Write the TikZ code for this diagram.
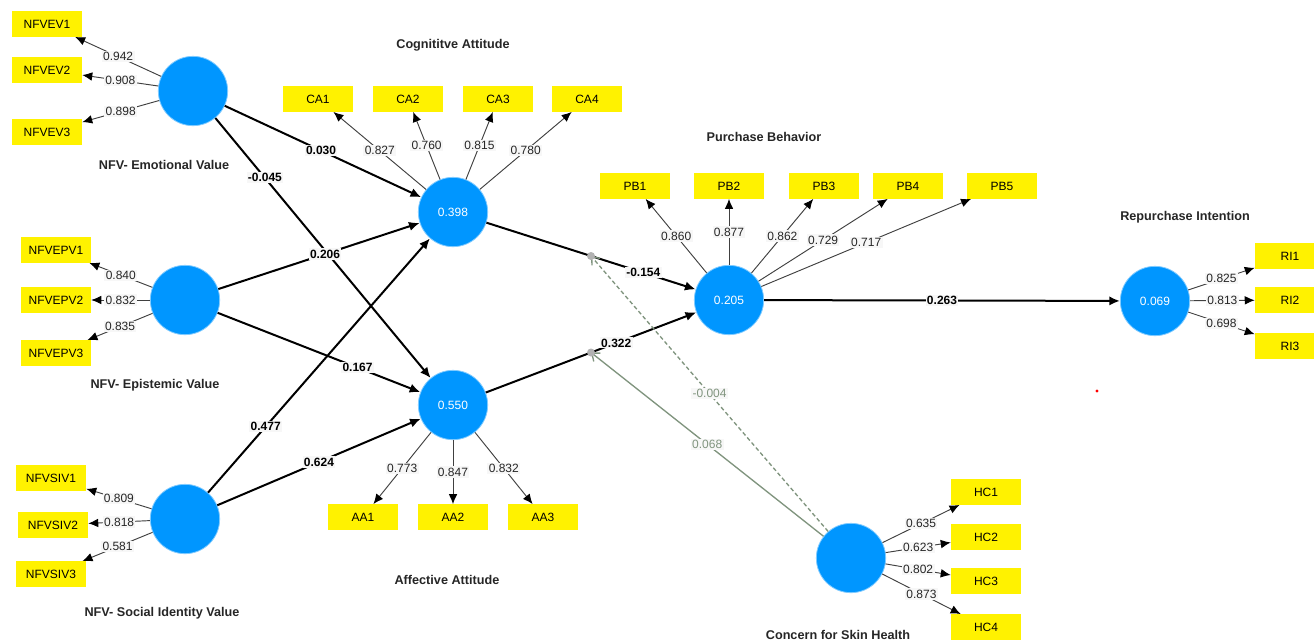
\documentclass[tikz,border=0pt]{standalone}
\usepackage{fontspec}
\setmainfont{Liberation Sans}
\usetikzlibrary{arrows.meta,calc}

\definecolor{lvblue}{RGB}{0,150,255}
\definecolor{modgreen}{RGB}{128,148,126}

\tikzset{
  latent/.style={circle, fill=lvblue, draw=lvblue!50!white, line width=0.6pt,
    minimum size=52pt, inner sep=0pt, text=white, font=\fontsize{9}{10}\selectfont},
  indicator/.style={fill=yellow, minimum width=52.5pt, minimum height=19pt,
    inner sep=0pt, font=\fontsize{9}{10}\selectfont},
  lvtitle/.style={font=\bfseries\fontsize{9.5}{11}\selectfont, text=black!85},
  loading/.style={draw=black!75, line width=0.7pt,
    -{Latex[length=7.5pt,width=6.5pt,color=black]}},
  coef/.style={draw=black, line width=1.5pt, -{Latex[length=8pt,width=7pt]}},
  lval/.style={fill=black!3, inner sep=1pt, font=\fontsize{9}{10}\selectfont, text=black!85},
  cval/.style={fill=black!3, inner sep=1pt, font=\bfseries\fontsize{9}{10}\selectfont},
  modline/.style={draw=modgreen, line width=1pt, -{Straight Barb[length=5pt,width=8pt]}},
  mval/.style={fill=black!3, inner sep=1pt, font=\fontsize{9}{10}\selectfont, text=modgreen},
}

\begin{document}
\begin{tikzpicture}[x=0.75pt, y=-0.75pt]
    % Canvas
    \clip (0,0) rectangle (1314,640);
    \fill[white] (0,0) rectangle (1314,640);

    % Latent variables
    \node[latent] (ev)  at (193,91)  {};
    \node[latent] (epv) at (185,300) {};
    \node[latent] (siv) at (185,519) {};
    \node[latent] (ca)  at (453,212) {0.398};
    \node[latent] (aa)  at (453,405) {0.550};
    \node[latent] (pb)  at (729,300) {0.205};
    \node[latent] (ri)  at (1155,301) {0.069};
    \node[latent] (hc)  at (851,558) {};

    % Titles
    \node[lvtitle] (tev)  at (164,165) {NFV- Emotional Value};
    \node[lvtitle] (tepv) at (155,385) {NFV- Epistemic Value};
    \node[lvtitle] (tsiv) at (162,613) {NFV- Social Identity Value};
    \node[lvtitle] (tca)  at (453,45)  {Cognititve Attitude};
    \node[lvtitle] (taa)  at (447,580) {Affective Attitude};
    \node[lvtitle] (tpb)  at (764,137) {Purchase Behavior};
    \node[lvtitle] (tri)  at (1185,217) {Repurchase Intention};
    \node[lvtitle] (thc)  at (838,635) {Concern for Skin Health};

    % Indicators
    \foreach \n/\y in {1/24,2/70,3/132}
        \node[indicator] (nfvev\n) at (47,\y) {NFVEV\n};
    \foreach \n/\y in {1/250,2/300,3/353}
        \node[indicator] (nfvepv\n) at (56,\y) {NFVEPV\n};
    \foreach \n/\x/\y in {1/51/478,2/53/525,3/51/574}
        \node[indicator] (nfvsiv\n) at (\x,\y) {NFVSIV\n};
    \foreach \n/\x in {1/318,2/408,3/498,4/587}
        \node[indicator] (ca\n) at (\x,99) {CA\n};
    \foreach \n/\x in {1/363,2/453,3/543}
        \node[indicator] (aa\n) at (\x,517) {AA\n};
    \foreach \n/\x in {1/635,2/729,3/824,4/908,5/1002}
        \node[indicator] (pb\n) at (\x,186) {PB\n};
    \foreach \n/\y in {1/256,2/300,3/346}
        \node[indicator] (ri\n) at (1290,\y) {RI\n};
    \foreach \n/\y in {1/492,2/537,3/581,4/627}
        \node[indicator] (hc\n) at (986,\y) {HC\n};

    % Outer loadings
    \foreach \n/\v in {1/0.942,2/0.908,3/0.898}
        \draw[loading] (ev) -- (nfvev\n) node[lval, midway] {\v};
    \foreach \n/\v in {1/0.840,2/0.832,3/0.835}
        \draw[loading] (epv) -- (nfvepv\n) node[lval, midway] {\v};
    \foreach \n/\v in {1/0.809,2/0.818,3/0.581}
        \draw[loading] (siv) -- (nfvsiv\n) node[lval, midway] {\v};
    \foreach \n/\v in {1/0.827,2/0.760,3/0.815,4/0.780}
        \draw[loading] (ca) -- (ca\n) node[lval, midway] {\v};
    \foreach \n/\v in {1/0.773,2/0.847,3/0.832}
        \draw[loading] (aa) -- (aa\n) node[lval, midway] {\v};
    \foreach \n/\v in {1/0.860,2/0.877,3/0.862,4/0.729,5/0.717}
        \draw[loading] (pb) -- (pb\n) node[lval, midway] {\v};
    \foreach \n/\v in {1/0.825,2/0.813,3/0.698}
        \draw[loading] (ri) -- (ri\n) node[lval, midway] {\v};
    \foreach \n/\v in {1/0.635,2/0.623,3/0.802,4/0.873}
        \draw[loading] (hc) -- (hc\n) node[lval, midway] {\v};

    % Path coefficients
    \draw[coef] (ev) -- (aa) node[cval, pos=0.23] {-0.045};
    \draw[coef] (ev) -- (ca) node[cval, pos=0.49] {0.030};
    \draw[coef] (siv) -- (ca) node[cval, pos=0.26] {0.477};
    \draw[coef] (epv) -- (ca) node[cval, pos=0.53] {0.206};
    \draw[coef] (epv) -- (aa) node[cval, pos=0.69] {0.167};
    \draw[coef] (siv) -- (aa) node[cval, pos=0.50] {0.624};
    \draw[coef] (ca) -- (pb) node[cval, pos=0.75] {-0.154};
    \draw[coef] (aa) -- (pb) node[cval, pos=0.62] {0.322};
    \draw[coef] (pb) -- (ri) node[cval, midway] {0.263};

    % Moderating effects
    \coordinate (m1) at ($(ca)!0.5!(pb)$);
    \coordinate (m2) at ($(aa)!0.5!(pb)$);
    \draw[modline, dash pattern=on 3pt off 2pt] (hc) -- (m1) node[mval, midway] {-0.004};
    \draw[modline] (hc) -- (m2) node[mval, midway] {0.068};
    \fill[black!30] (m1) circle (3pt);
    \fill[black!30] (m2) circle (3pt);

    % Stray mark
    \fill[red] (1097,391) circle (1.2pt);
\end{tikzpicture}
\end{document}
